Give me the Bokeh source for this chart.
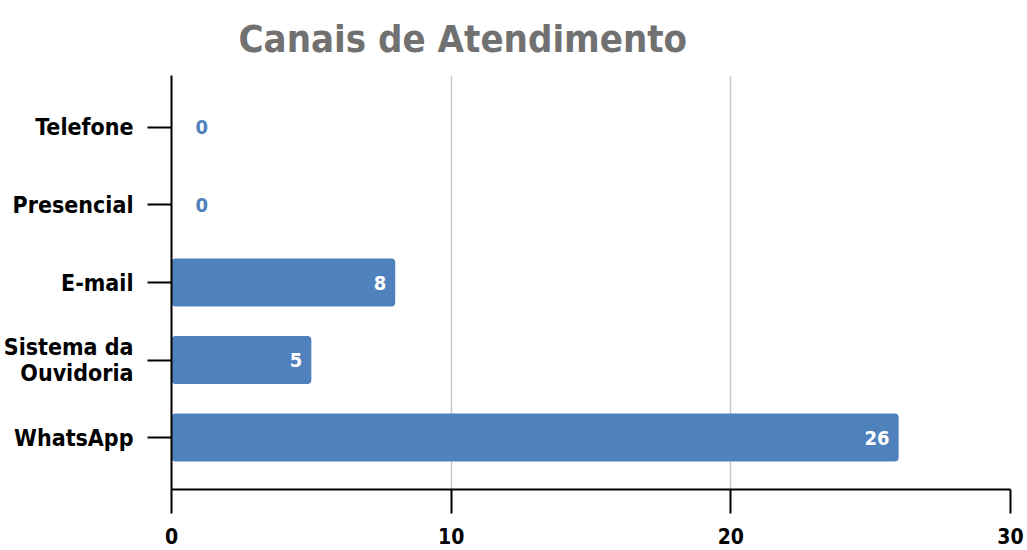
from bokeh.plotting import figure
from bokeh.models import FactorRange, Range1d, FixedTicker, ColumnDataSource, LabelSet
from bokeh.core.properties import value
from bokeh.embed import file_html
from bokeh.resources import INLINE

title_text = "Canais de Atendimento"
categories = ["Telefone", "Presencial", "E-mail", "Sistema da\nOuvidoria", "WhatsApp"]
values = [0, 0, 8, 5, 26]
x_ticks = [0, 10, 20, 30]

FONT = "DejaVu Sans Condensed"
BLUE = "#4f81bd"

order = categories[::-1]
src = ColumnDataSource(dict(cat=categories, value=values))
zero_src = ColumnDataSource(dict(
    cat=[c for c, v in zip(categories, values) if v == 0],
    value=[v for v in values if v == 0],
    label=[str(v) for v in values if v == 0]))
pos_src = ColumnDataSource(dict(
    cat=[c for c, v in zip(categories, values) if v != 0],
    value=[v for v in values if v != 0],
    label=[str(v) for v in values if v != 0]))

p = figure(width=1027, height=550, output_backend="svg", toolbar_location=None,
           y_range=FactorRange(factors=order, range_padding=0.17, range_padding_units="absolute"),
           x_range=Range1d(0, 30), title=title_text,
           min_border_left=171, min_border_right=17, min_border_bottom=61, min_border_top=0)

p.hbar(y="cat", right="value", left=0, height=0.62, source=src, color=BLUE,
       line_color=None, border_radius=4)

p.add_layout(LabelSet(x="value", y="cat", text="label", source=pos_src, x_offset=-9,
                      text_align="right", text_baseline="middle", text_color="white",
                      text_font=value(FONT), text_font_style="bold", text_font_size="20px"))
p.add_layout(LabelSet(x="value", y="cat", text="label", source=zero_src, x_offset=24,
                      text_align="left", text_baseline="middle", text_color=BLUE,
                      text_font=value(FONT), text_font_style="bold", text_font_size="20px"))

p.title.text_font = FONT
p.title.text_font_style = "bold"
p.title.text_font_size = "38px"
p.title.text_color = "#717171"
p.title.align = "left"
p.title.offset = 67
p.title.standoff = 29

p.outline_line_color = None
p.ygrid.grid_line_color = None
p.xgrid.grid_line_color = "#c8c8c8"
p.xgrid.grid_line_width = 1.5
p.xaxis.ticker = FixedTicker(ticks=x_ticks)

for ax in (p.xaxis, p.yaxis):
    ax.axis_line_color = "black"
    ax.axis_line_width = 2
    ax.major_tick_line_color = "black"
    ax.major_tick_line_width = 2
    ax.major_tick_in = 0
    ax.major_tick_out = 24
    ax.minor_tick_line_color = None
    ax.major_label_text_font = FONT
    ax.major_label_text_font_style = "bold"
    ax.major_label_text_color = "black"

p.xaxis.major_label_text_font_size = "21px"
p.xaxis.major_label_standoff = 14
p.yaxis.major_label_text_font_size = "23px"
p.yaxis.major_label_text_line_height = 1.0
p.yaxis.major_label_standoff = 14

open("out.html", "w").write(file_html(p, INLINE))
